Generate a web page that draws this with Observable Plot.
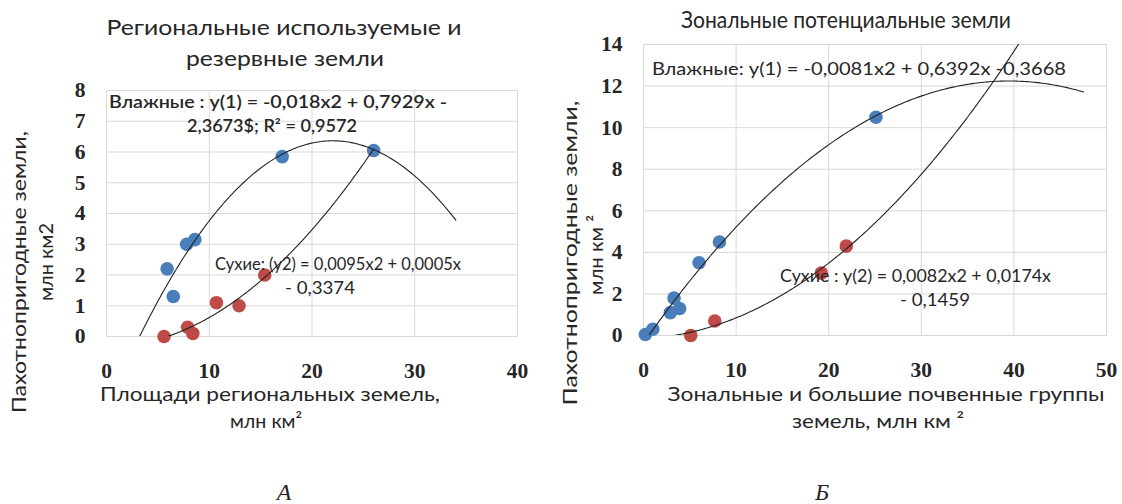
<!DOCTYPE html>
<html><head><meta charset="utf-8">
<script src="https://cdn.jsdelivr.net/npm/d3@7"></script>
<script src="https://cdn.jsdelivr.net/npm/@observablehq/plot@0.6"></script>
<style>
body{margin:0;background:#fff;}
#wrap{position:relative;width:1122px;height:504px;overflow:hidden;}
#wrap > svg{position:absolute;top:0;}
#overlay{position:absolute;left:0;top:0;}
</style></head><body><div id="wrap"></div>
<script>
// ---------- Panel A: Региональные используемые и резервные земли ----------
const aWetX = [5.9, 6.5, 7.8, 8.6, 17.1, 26.0];
const aWetY = [2.2, 1.3, 3.0, 3.15, 5.85, 6.05];
const aDryX = [5.6, 7.9, 8.4, 10.7, 12.9, 15.4];
const aDryY = [0.0, 0.3, 0.1, 1.1, 1.0, 2.0];
const aWetCoef = [-0.018, 0.7929, -2.3673];   // y = a x² + b x + c
const aWetSpan = [3.17, 34];
const aDryCoef = [0.0095, 0.0005, -0.3374];
const aDrySpan = [5.6, 26];
const aXTicks = [0, 10, 20, 30, 40];
const aYTicks = [0, 1, 2, 3, 4, 5, 6, 7, 8];

// ---------- Panel B: Зональные потенциальные земли ----------
const bWetX = [0.2, 1.0, 2.9, 3.3, 3.9, 6.0, 8.2, 25.1];
const bWetY = [0.05, 0.3, 1.1, 1.8, 1.3, 3.5, 4.5, 10.5];
const bDryX = [5.1, 7.7, 19.2, 21.9];
const bDryY = [0.0, 0.7, 3.0, 4.3];
const bWetCoef = [-0.0081, 0.6392, -0.3668];
const bWetSpan = [0.58, 47.5];
const bDryCoef = [0.0082, 0.0174, -0.1459];
const bDrySpan = [3.3, 40.6];
const bXTicks = [0, 10, 20, 30, 40, 50];
const bYTicks = [0, 2, 4, 6, 8, 10, 12, 14];

const BLUE = "#4a7ebb", RED = "#be4b48", GRID = "#d9d9d9";
const SANS = "Lato, 'Open Sans', sans-serif";
const SERIF = "'Liberation Serif', 'DejaVu Serif', serif";

const pts = (xs, ys) => xs.map((x, i) => ({x, y: ys[i]}));
const trend = (coef, span) => d3.range(0, 201).map(i => {
  const x = span[0] + (span[1] - span[0]) * i / 200;
  return {x, y: coef[0] * x * x + coef[1] * x + coef[2]};
});

function panel(o) {
  return Plot.plot({
    width: 561, height: 504,
    marginLeft: o.ml, marginRight: o.mr, marginTop: o.mt, marginBottom: o.mb,
    x: {domain: o.xd, label: null},
    y: {domain: o.yd, label: null},
    style: {background: "transparent", overflow: "visible"},
    marks: [
      Plot.gridX(o.xt, {stroke: GRID, strokeOpacity: 1}),
      Plot.gridY(o.yt, {stroke: GRID, strokeOpacity: 1}),
      Plot.frame({stroke: GRID}),
      Plot.axisX(o.xt, {tickSize: 0, tickPadding: 26, fontSize: 21.5, fontWeight: "bold",
        fontFamily: SERIF, fill: "#262626", label: null}),
      Plot.axisY(o.yt, {tickSize: 0, tickPadding: 21, fontSize: 21.5, fontWeight: "bold",
        fontFamily: SERIF, fill: "#262626", label: null}),
      Plot.dot(pts(o.wx, o.wy), {x: "x", y: "y", r: 6.8, fill: BLUE, stroke: "none"}),
      Plot.dot(pts(o.dx, o.dy), {x: "x", y: "y", r: 6.8, fill: RED, stroke: "none"}),
      Plot.line(trend(o.wc, o.ws), {x: "x", y: "y", stroke: "#222", strokeWidth: 1.1, clip: true}),
      Plot.line(trend(o.dc, o.ds), {x: "x", y: "y", stroke: "#222", strokeWidth: 1.1, clip: true})
    ]
  });
}

const wrap = document.getElementById("wrap");
const A = panel({ml: 106, mr: 44, mt: 90, mb: 168, xd: [0, 40], yd: [0, 8], xt: aXTicks, yt: aYTicks,
  wx: aWetX, wy: aWetY, dx: aDryX, dy: aDryY, wc: aWetCoef, ws: aWetSpan, dc: aDryCoef, ds: aDrySpan});
A.style.left = "0px";
wrap.appendChild(A);
const B = panel({ml: 82, mr: 16, mt: 44, mb: 169, xd: [0, 50], yd: [0, 14], xt: bXTicks, yt: bYTicks,
  wx: bWetX, wy: bWetY, dx: bDryX, dy: bDryY, wc: bWetCoef, ws: bWetSpan, dc: bDryCoef, ds: bDrySpan});
B.style.left = "561px";
wrap.appendChild(B);

// ---------- text overlay ----------
const texts = [
  // panel A
  {t: "Региональные используемые и", x: 284, y: 35, s: 22, w: 355},
  {t: "резервные земли", x: 285, y: 66, s: 22, w: 198},
  {t: "Влажные : y(1) = -0,018x2 + 0,7929x -", x: 109, y: 108, s: 17, a: "start", w: 338, bold: true},
  {t: "2,3673$; R² = 0,9572", x: 272, y: 132, s: 17, w: 170, bold: true},
  {t: "Сухие: (y2) = 0,0095x2 + 0,0005x", x: 215, y: 270, s: 17, a: "start", w: 246},
  {t: "- 0,3374", x: 320, y: 294, s: 17, w: 70},
  {t: "Площади региональных  земель,", x: 270, y: 401, s: 20, w: 340},
  {t: "млн км²", x: 266, y: 428, s: 20, w: 72},
  {t: "Пахотнопригодные земли,", x: 26, y: 272, s: 20, w: 282, rot: true},
  {t: "млн км2", x: 53, y: 262, s: 20, w: 78, rot: true},
  // panel B
  {t: "Зональные потенциальные земли", x: 846, y: 28, s: 23, w: 330},
  {t: "Влажные: y(1) = -0,0081x2 + 0,6392x -0,3668", x: 652, y: 75, s: 17, a: "start", w: 414},
  {t: "Сухие : y(2) = 0,0082x2 + 0,0174x", x: 780, y: 282, s: 17, a: "start", w: 271},
  {t: "- 0,1459", x: 935, y: 306, s: 17, w: 70},
  {t: "Зональные и большие почвенные группы", x: 886, y: 401, s: 20, w: 437},
  {t: "земель, млн  км ²", x: 878, y: 428, s: 20, w: 172},
  {t: "Пахотнопригодные земли,", x: 577, y: 253, s: 20, w: 305, rot: true},
  {t: "млн  км ²", x: 603, y: 255, s: 20, w: 80, rot: true},
  // panel letters
  {t: "А", x: 284, y: 500, s: 24, serif: true, italic: true},
  {t: "Б", x: 822, y: 500, s: 24, serif: true, italic: true}
];
const svg = d3.select(wrap).append("svg").attr("id", "overlay").attr("width", 1122).attr("height", 504);
for (const d of texts) {
  const el = svg.append("text")
    .attr("text-anchor", d.a || "middle")
    .attr("font-family", d.serif ? SERIF : SANS)
    .attr("font-size", d.s)
    .attr("font-style", d.italic ? "italic" : null)
    .attr("font-weight", d.bold ? 600 : null)
    .attr("fill", "#262626")
    .text(d.t);
  if (d.rot) el.attr("transform", `translate(${d.x},${d.y}) rotate(-90)`);
  else el.attr("x", d.x).attr("y", d.y);
  if (d.w) el.attr("textLength", d.w).attr("lengthAdjust", "spacingAndGlyphs");
}
</script></body></html>
